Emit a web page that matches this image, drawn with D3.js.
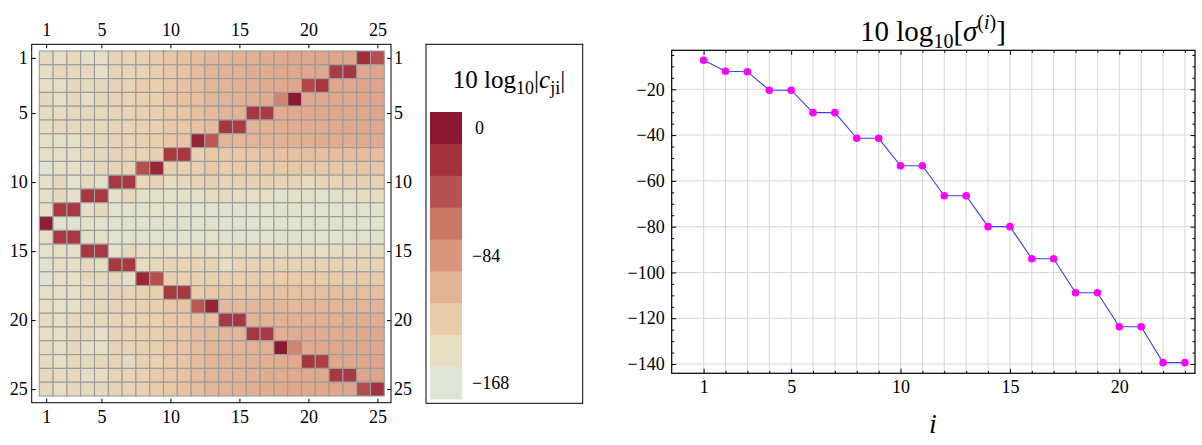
<!DOCTYPE html>
<html>
<head>
<meta charset="utf-8">
<script src="https://cdn.jsdelivr.net/npm/d3@7"></script>
<style>
  html, body { margin: 0; padding: 0; background: #fff; }
  svg { display: block; font-family: "Liberation Serif", "DejaVu Serif", serif; }
  .axis path.domain { display: none; }
  .axis .tick line { stroke: #000; stroke-width: 1; }
</style>
</head>
<body>
<div id="chart"></div>
<script>
// --- data ------------------------------------------------------------------
const matrixTicks = [1, 5, 10, 15, 20, 25];

// 10 log10|c_ji|, row j = 1..25, column i = 1..25
const cjiRows = [
  [-142,-150,-142,-150,-150,-137,-137,-133,-128,-122,-118,-114,-110,-108,-104,-103,-100,-98,-96,-96,-95,-95,-95,-18,-39],
  [-148,-141,-141,-141,-150,-137,-137,-134,-130,-124,-119,-112,-108,-105,-103,-101,-100,-98,-96,-96,-96,-28,-24,-96,-95],
  [-148,-150,-141,-141,-141,-137,-137,-128,-132,-124,-119,-113,-108,-105,-103,-102,-100,-98,-98,-35,-23,-96,-96,-95,-95],
  [-141,-150,-141,-150,-141,-137,-137,-132,-132,-121,-119,-116,-108,-105,-103,-102,-101,-72,0,-98,-97,-96,-96,-95,-95],
  [-145,-148,-141,-141,-141,-137,-137,-132,-132,-124,-121,-116,-112,-106,-105,-24,-27,-99,-98,-98,-97,-97,-96,-96,-95],
  [-148,-141,-141,-141,-141,-137,-137,-132,-132,-124,-124,-119,-113,-25,-27,-105,-104,-102,-101,-100,-99,-98,-98,-97,-97],
  [-148,-150,-150,-141,-141,-137,-137,-132,-132,-124,-121,-10,-45,-108,-107,-106,-105,-104,-103,-102,-101,-100,-100,-99,-99],
  [-148,-150,-150,-141,-141,-137,-137,-137,-132,-25,-25,-134,-124,-124,-123,-121,-120,-118,-117,-116,-116,-115,-115,-114,-114],
  [-160,-150,-150,-150,-141,-137,-137,-40,-13,-132,-132,-130,-125,-128,-127,-126,-125,-125,-124,-124,-124,-123,-123,-122,-122],
  [-150,-141,-160,-141,-150,-25,-25,-139,-137,-145,-141,-137,-134,-136,-135,-135,-134,-136,-137,-145,-137,-136,-135,-135,-134],
  [-148,-141,-150,-25,-25,-150,-141,-150,-150,-150,-150,-150,-146,-142,-145,-150,-148,-160,-150,-147,-158,-152,-148,-146,-145],
  [-150,-25,-25,-150,-141,-158,-158,-155,-155,-155,-158,-158,-158,-158,-162,-158,-157,-158,-156,-158,-158,-157,-158,-156,-154],
  [-3,-155,-158,-155,-155,-158,-158,-158,-156,-156,-156,-158,-156,-160,-160,-162,-160,-160,-159,-158,-158,-158,-157,-158,-157],
  [-148,-25,-25,-155,-148,-158,-158,-158,-163,-158,-158,-158,-156,-158,-160,-158,-158,-158,-156,-156,-155,-156,-155,-154,-154],
  [-156,-148,-148,-25,-25,-156,-141,-148,-148,-148,-148,-144,-148,-146,-144,-145,-144,-145,-145,-146,-148,-145,-144,-143,-143],
  [-155,-148,-150,-141,-148,-25,-25,-144,-141,-137,-137,-137,-137,-147,-136,-136,-135,-135,-135,-135,-134,-134,-134,-134,-134],
  [-158,-150,-150,-141,-141,-141,-150,-13,-40,-132,-132,-133,-132,-130,-130,-129,-128,-128,-127,-127,-126,-126,-126,-125,-125],
  [-148,-150,-150,-141,-141,-137,-137,-132,-132,-25,-25,-128,-124,-122,-121,-121,-120,-119,-118,-118,-117,-117,-116,-116,-116],
  [-148,-155,-150,-141,-141,-137,-137,-132,-132,-124,-121,-45,-10,-110,-110,-109,-108,-108,-110,-108,-107,-107,-106,-106,-106],
  [-144,-150,-141,-141,-141,-137,-137,-132,-132,-124,-124,-118,-117,-25,-25,-105,-105,-104,-103,-103,-102,-102,-101,-101,-100],
  [-148,-150,-141,-141,-150,-137,-137,-132,-132,-124,-121,-113,-112,-108,-107,-24,-27,-102,-101,-100,-100,-99,-99,-98,-98],
  [-144,-150,-141,-155,-150,-137,-137,-132,-132,-124,-121,-113,-108,-106,-105,-104,-103,0,-72,-99,-98,-97,-97,-96,-96],
  [-144,-150,-141,-141,-141,-137,-141,-132,-132,-124,-121,-113,-108,-105,-104,-103,-102,-100,-99,-24,-30,-97,-96,-96,-95],
  [-141,-144,-141,-150,-148,-137,-137,-132,-128,-124,-119,-113,-108,-105,-104,-102,-101,-99,-98,-97,-97,-25,-26,-95,-95],
  [-141,-150,-141,-141,-141,-137,-137,-132,-128,-124,-119,-113,-108,-105,-103,-102,-100,-98,-97,-96,-96,-95,-95,-38,-20],
];

// legend bands (centres) and their colours
const legendStops  = [0, -21, -42, -63, -84, -105, -126, -147, -168];
const legendColors = ['#8a1830','#a3323f','#b65250','#ca7766','#d9967d','#e3b395','#e9caa9','#e5dec3','#dde6d6'];
const legendTicks  = [0, -84, -168];

// 10 log10[sigma^(i)], i = 1..23
const sigmaIndex = d3.range(1, 24);
const sigmaDb = [-7.3,-12.1,-12.3,-20.4,-20.4,-30.2,-30.2,-41.4,-41.4,-53.4,-53.4,-66.5,-66.5,
                 -80.0,-80.0,-94.0,-94.0,-108.9,-108.9,-123.7,-123.7,-139.4,-139.4];
const sigmaXTicks = [1, 5, 10, 15, 20];
const sigmaYTicks = [-20, -40, -60, -80, -100, -120, -140];

// --- svg -------------------------------------------------------------------
const SERIF = '"Liberation Serif", "DejaVu Serif", serif';
const W = 1202, H = 445;
const svg = d3.select('#chart').append('svg').attr('width', W).attr('height', H);
const fmt = d => d < 0 ? '\u2212' + Math.abs(d) : String(d);

// d3 axes put font-family="sans-serif" on their group; put the serif back
const serifAxis = g => g.attr('font-family', SERIF).attr('font-size', 18)
  .call(a => a.selectAll('text').attr('fill', '#000'));

const color = d3.scaleLinear()
  .domain(legendStops)
  .range(legendColors)
  .interpolate(d3.interpolateRgb)
  .clamp(true);

// --- matrix plot -----------------------------------------------------------
const mFrame = { x0: 31.7, x1: 391, y0: 44.3, y1: 402.7 };
const cells = { x0: 39.3, x1: 384.3, y0: 51, y1: 396 };
const idx = d3.range(1, 26);

const cx = d3.scaleBand().domain(idx).range([cells.x0, cells.x1]);
const cy = d3.scaleBand().domain(idx).range([cells.y0, cells.y1]);
// centre positions for ticks
const cxLin = d3.scaleLinear().domain([0.5, 25.5]).range([cells.x0, cells.x1]);
const cyLin = d3.scaleLinear().domain([0.5, 25.5]).range([cells.y0, cells.y1]);

const flat = cjiRows.flatMap((row, j) => row.map((v, i) => ({ row: j + 1, col: i + 1, v })));

svg.append('g').selectAll('rect')
  .data(flat)
  .join('rect')
  .attr('x', d => cx(d.col))
  .attr('y', d => cy(d.row))
  .attr('width', cx.bandwidth())
  .attr('height', cy.bandwidth())
  .attr('fill', d => color(d.v))
  .attr('stroke', '#9c9c9c')
  .attr('stroke-width', 1.1);

svg.append('rect')
  .attr('x', mFrame.x0).attr('y', mFrame.y0)
  .attr('width', mFrame.x1 - mFrame.x0).attr('height', mFrame.y1 - mFrame.y0)
  .attr('fill', 'none').attr('stroke', '#000').attr('stroke-width', 1);

svg.append('g').attr('class', 'axis')
  .attr('transform', `translate(0,${mFrame.y0})`)
  .call(d3.axisTop(cxLin).tickValues(matrixTicks).tickSize(-4).tickPadding(8))
  .call(serifAxis);
svg.append('g').attr('class', 'axis')
  .attr('transform', `translate(0,${mFrame.y1})`)
  .call(d3.axisBottom(cxLin).tickValues(matrixTicks).tickSize(-4).tickPadding(8))
  .call(serifAxis);
svg.append('g').attr('class', 'axis')
  .attr('transform', `translate(${mFrame.x0},0)`)
  .call(d3.axisLeft(cyLin).tickValues(matrixTicks).tickSize(-4).tickPadding(4))
  .call(serifAxis);
svg.append('g').attr('class', 'axis')
  .attr('transform', `translate(${mFrame.x1},0)`)
  .call(d3.axisRight(cyLin).tickValues(matrixTicks).tickSize(-4).tickPadding(3))
  .call(serifAxis);

// --- legend ----------------------------------------------------------------
const lg = { x0: 426, x1: 582.7, y0: 44.3, y1: 403.3 };
svg.append('rect')
  .attr('x', lg.x0).attr('y', lg.y0)
  .attr('width', lg.x1 - lg.x0).attr('height', lg.y1 - lg.y0)
  .attr('fill', '#fff').attr('stroke', '#000').attr('stroke-width', 1);

const lt = svg.append('text')
  .attr('x', 509).attr('y', 88)
  .attr('text-anchor', 'middle')
  .attr('font-family', SERIF)
  .attr('font-size', 25);
lt.append('tspan').text('10 log');
lt.append('tspan').attr('font-size', 18).attr('dy', 6).text('10');
lt.append('tspan').attr('dy', -6).text('|');
lt.append('tspan').attr('font-style', 'italic').text('c');
lt.append('tspan').attr('font-size', 18).attr('dy', 6).text('ji');
lt.append('tspan').attr('dy', -6).text('|');

const band = d3.scaleBand().domain(legendStops).range([112, 399]);
svg.append('g').selectAll('rect')
  .data(legendStops)
  .join('rect')
  .attr('x', 430).attr('width', 32)
  .attr('y', d => band(d)).attr('height', band.bandwidth() + 0.5)
  .attr('fill', d => color(d));

svg.append('g').selectAll('text')
  .data(legendTicks)
  .join('text')
  .attr('x', d => d === 0 ? 475 : 472)
  .attr('y', d => band(d) + band.bandwidth() / 2)
  .attr('dy', '0.35em')
  .attr('font-family', SERIF)
  .attr('font-size', 18)
  .text(fmt);

// --- sigma plot ------------------------------------------------------------
const pf = { x0: 671.7, x1: 1195, y0: 50.3, y1: 373.3 };
const x = d3.scaleLinear().domain([-0.46, 23.46]).range([pf.x0, pf.x1]);
const y = d3.scaleLinear().domain([-144.06, -2.96]).range([pf.y1, pf.y0]);

const grid = svg.append('g').attr('stroke', '#d6d6d6').attr('stroke-width', 1);
grid.selectAll('line.v')
  .data(sigmaIndex)
  .join('line').attr('class', 'v')
  .attr('x1', d => x(d)).attr('x2', d => x(d))
  .attr('y1', pf.y0).attr('y2', pf.y1);
grid.selectAll('line.h')
  .data(sigmaYTicks)
  .join('line').attr('class', 'h')
  .attr('x1', pf.x0).attr('x2', pf.x1)
  .attr('y1', d => y(d)).attr('y2', d => y(d));

const minorX = sigmaIndex.filter(d => !sigmaXTicks.includes(d));
const minorY = d3.range(-140, -4, 5).filter(d => !sigmaYTicks.includes(d));

function frameAxis(axisFn, scale, pos, major, minor, labels) {
  const g = svg.append('g').attr('class', 'axis').attr('transform', pos);
  g.call(axisFn(scale).tickValues(major).tickSize(-4.5).tickPadding(labels ? 7 : 0)
    .tickFormat(labels ? fmt : () => ''))
    .call(serifAxis);
  g.append('g').call(axisFn(scale).tickValues(minor).tickSize(-2.5).tickFormat(() => ''))
    .call(a => a.select('.domain').remove());
  return g;
}
frameAxis(d3.axisBottom, x, `translate(0,${pf.y1})`, sigmaXTicks, minorX, true);
frameAxis(d3.axisTop, x, `translate(0,${pf.y0})`, sigmaXTicks, minorX, false);
frameAxis(d3.axisLeft, y, `translate(${pf.x0},0)`, sigmaYTicks, minorY, true);
frameAxis(d3.axisRight, y, `translate(${pf.x1},0)`, sigmaYTicks, minorY, false);

svg.append('rect')
  .attr('x', pf.x0).attr('y', pf.y0)
  .attr('width', pf.x1 - pf.x0).attr('height', pf.y1 - pf.y0)
  .attr('fill', 'none').attr('stroke', '#000').attr('stroke-width', 1.2);

const pts = sigmaIndex.map((i, k) => ({ i, v: sigmaDb[k] }));
svg.append('path')
  .datum(pts)
  .attr('fill', 'none')
  .attr('stroke', '#3a3aff')
  .attr('stroke-width', 1.1)
  .attr('d', d3.line().x(d => x(d.i)).y(d => y(d.v)));

svg.append('g').selectAll('circle')
  .data(pts)
  .join('circle')
  .attr('cx', d => x(d.i)).attr('cy', d => y(d.v))
  .attr('r', 3.8)
  .attr('fill', '#ff00ff');

// title
const tt = svg.append('text')
  .attr('x', 933).attr('y', 41)
  .attr('text-anchor', 'middle')
  .attr('font-family', SERIF)
  .attr('font-size', 29);
tt.append('tspan').text('10 log');
tt.append('tspan').attr('font-size', 20).attr('dy', 7).text('10');
tt.append('tspan').attr('dy', -7).text('[');
tt.append('tspan').attr('font-style', 'italic').text('σ');
tt.append('tspan').attr('font-size', 20).attr('dy', -12).text('(');
tt.append('tspan').attr('font-size', 20).attr('font-style', 'italic').text('i');
tt.append('tspan').attr('font-size', 20).text(')');
tt.append('tspan').attr('dy', 12).text(']');

svg.append('text')
  .attr('x', 933).attr('y', 433)
  .attr('text-anchor', 'middle')
  .attr('font-family', SERIF)
  .attr('font-size', 28)
  .attr('font-style', 'italic')
  .text('i');
</script>
</body>
</html>
